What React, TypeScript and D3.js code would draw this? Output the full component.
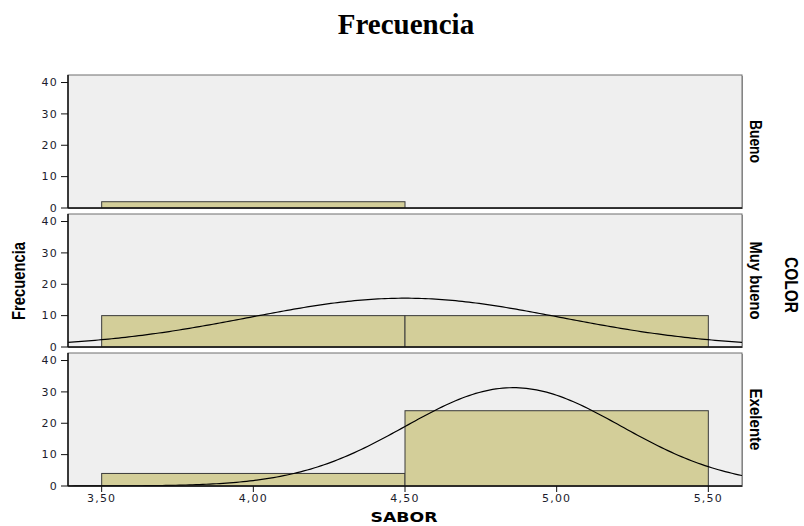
import React from "react";
import * as d3 from "d3";

// Panels (COLOR levels) and histogram bins of SABOR
const colorLevels = ["Bueno", "Muy bueno", "Exelente"];
const binStarts = [3.5, 4.5];
const binWidth = 1.0;
const binMids = [4.0, 5.0];
const buenoCounts = [2, 0];
const muyBuenoCounts = [10, 10];
const exelenteCounts = [4, 24];
const panelCounts = [buenoCounts, muyBuenoCounts, exelenteCounts];

const xTicks = [3.5, 4.0, 4.5, 5.0, 5.5];
const yTicks = [0, 10, 20, 30, 40];

const W = 804;
const H = 526;
const plotLeft = 68;
const plotRight = 742;
const firstTop = 75;
const panelH = 133;
const panelStep = 139;

// rendered lengths of the rotated (condensed) panel labels
const panelLabelLen: Record<string, number> = {
  Bueno: 43,
  "Muy bueno": 78,
  Exelente: 62,
};

const fmt = (v: number) => v.toFixed(2).replace(".", ",");

// Normal fit from binned counts (sample mean / sd), scaled to counts per bin
function normalFit(counts: number[]) {
  const n = d3.sum(counts);
  if (n < 2) return null;
  const mean = d3.sum(counts.map((c, i) => c * binMids[i])) / n;
  const ss = d3.sum(counts.map((c, i) => c * (binMids[i] - mean) ** 2));
  const sd = Math.sqrt(ss / (n - 1));
  if (!(sd > 0)) return null;
  return { n, mean, sd };
}

export default function App() {
  const x = d3.scaleLinear().domain([3.389, 5.611]).range([plotLeft, plotRight]);
  const font = "'DejaVu Sans', Verdana, sans-serif";
  const boldFont = "'Liberation Sans', Arial, sans-serif";

  return (
    <svg
      width={W}
      height={H}
      style={{ position: "absolute", left: 0, top: 0, background: "#fff" }}
    >
      <text
        x={406}
        y={34}
        textAnchor="middle"
        fontFamily="'Liberation Serif', 'Times New Roman', serif"
        fontWeight="bold"
        fontSize={29}
        fill="#000"
      >
        Frecuencia
      </text>

      {colorLevels.map((level, pi) => {
        const top = firstTop + pi * panelStep;
        const bottom = top + panelH;
        const y = d3.scaleLinear().domain([0, 42.4]).range([bottom, top]);
        const counts = panelCounts[pi];
        const fit = normalFit(counts);
        let curvePath: string | null = null;
        if (fit) {
          const [d0, d1] = x.domain();
          const xs = d3.range(0, 201).map((k) => d0 + (k / 200) * (d1 - d0));
          const line = d3
            .line<number>()
            .x((v) => x(v))
            .y((v) => {
              const z = (v - fit.mean) / fit.sd;
              const dens =
                ((fit.n * binWidth) / (fit.sd * Math.sqrt(2 * Math.PI))) *
                Math.exp(-0.5 * z * z);
              return y(dens);
            });
          curvePath = line(xs);
        }
        const clipId = `clip-${pi}`;
        return (
          <g key={level}>
            <defs>
              <clipPath id={clipId}>
                <rect x={plotLeft} y={top} width={plotRight - plotLeft} height={panelH} />
              </clipPath>
            </defs>
            <rect
              x={plotLeft + 1}
              y={top + 1}
              width={plotRight - plotLeft}
              height={panelH}
              fill="#9a9a9a"
            />
            <rect
              x={plotLeft}
              y={top}
              width={plotRight - plotLeft}
              height={panelH}
              fill="#efefef"
              stroke="#6e6e6e"
              strokeWidth={1}
            />
            <g clipPath={`url(#${clipId})`}>
              {counts.map((c, i) =>
                c > 0 ? (
                  <rect
                    key={i}
                    x={x(binStarts[i])}
                    y={y(c)}
                    width={x(binStarts[i] + binWidth) - x(binStarts[i])}
                    height={y(0) - y(c)}
                    fill="#d3ce99"
                    stroke="#3a3a3a"
                    strokeWidth={1}
                  />
                ) : null
              )}
              {curvePath && (
                <path d={curvePath} fill="none" stroke="#000" strokeWidth={1.2} />
              )}
            </g>
            <line x1={plotLeft} x2={plotLeft} y1={top} y2={bottom} stroke="#111" strokeWidth={1.5} />
            <line x1={plotLeft} x2={plotRight} y1={bottom} y2={bottom} stroke="#111" strokeWidth={1.5} />
            {yTicks.map((t) => (
              <g key={t}>
                <line
                  x1={plotLeft - 7}
                  x2={plotLeft}
                  y1={y(t)}
                  y2={y(t)}
                  stroke="#111"
                  strokeWidth={1}
                />
                <text
                  x={plotLeft - 10}
                  y={y(t)}
                  dy="0.35em"
                  textAnchor="end"
                  fontFamily={font}
                  fontSize={11}
                  letterSpacing={1.2}
                  fill="#1c1c2c"
                >
                  {t}
                </text>
              </g>
            ))}
            <text
              transform={`translate(${750},${(top + bottom) / 2}) rotate(90)`}
              textAnchor="middle"
              fontFamily={boldFont}
              fontWeight="bold"
              fontSize={17}
              textLength={panelLabelLen[level]}
              lengthAdjust="spacingAndGlyphs"
              fill="#000"
            >
              {level}
            </text>
          </g>
        );
      })}

      {xTicks.map((t) => {
        const bottom = firstTop + 2 * panelStep + panelH;
        return (
          <g key={t}>
            <line x1={x(t)} x2={x(t)} y1={bottom} y2={bottom + 6} stroke="#111" strokeWidth={1} />
            <text
              x={x(t)}
              y={502}
              textAnchor="middle"
              fontFamily={font}
              fontSize={11}
              letterSpacing={1.2}
              fill="#1c1c2c"
            >
              {fmt(t)}
            </text>
          </g>
        );
      })}

      <text
        x={404}
        y={522}
        textAnchor="middle"
        fontFamily={font}
        fontWeight="bold"
        fontSize={14}
        textLength={67}
        lengthAdjust="spacingAndGlyphs"
        fill="#000"
      >
        SABOR
      </text>
      <text
        transform={`translate(${25},${281}) rotate(-90)`}
        textAnchor="middle"
        fontFamily={boldFont}
        fontWeight="bold"
        fontSize={18}
        textLength={78}
        lengthAdjust="spacingAndGlyphs"
        fill="#000"
      >
        Frecuencia
      </text>
      <text
        transform={`translate(${785},${285}) rotate(90)`}
        textAnchor="middle"
        fontFamily={boldFont}
        fontWeight="bold"
        fontSize={18}
        textLength={56}
        lengthAdjust="spacingAndGlyphs"
        fill="#000"
      >
        COLOR
      </text>
    </svg>
  );
}
